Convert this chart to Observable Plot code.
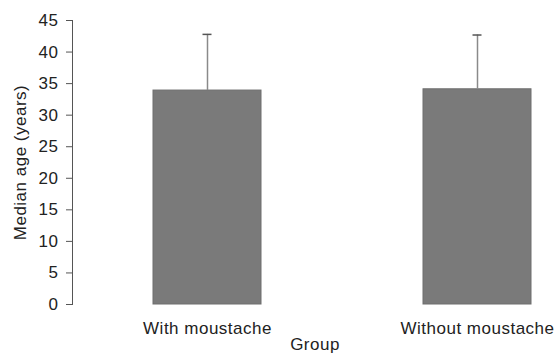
<!DOCTYPE html>
<html>
<head>
<meta charset="utf-8">
<script src="https://cdn.jsdelivr.net/npm/d3@7"></script>
<script src="https://cdn.jsdelivr.net/npm/@observablehq/plot@0.6"></script>
<style>
  html, body { margin: 0; padding: 0; background: #fff; }
  svg text { letter-spacing: 0.5px; }
</style>
</head>
<body>
<div id="chart"></div>
<script>
const groups = ["With moustache", "Without moustache"];
const medians = [33.9, 34.1];
const upper = [42.8, 42.7];
const yTicks = [0, 5, 10, 15, 20, 25, 30, 35, 40, 45];

const data = groups.map((g, i) => ({group: g, median: medians[i], upper: upper[i]}));

const chart = Plot.plot({
  width: 557,
  height: 353,
  marginLeft: 72,
  marginRight: 0,
  marginTop: 20,
  marginBottom: 49,
  style: {fontFamily: "'Liberation Sans', Arial, sans-serif", fontSize: "17px", color: "#222", background: "#fff"},
  x: {domain: groups, range: [153, 531], paddingInner: 0.6, paddingOuter: 0},
  y: {domain: [0, 45], ticks: yTicks},
  marks: [
    Plot.barY(data, {x: "group", y: "median", fill: "#7a7a7a", stroke: "#6e6e6e", strokeWidth: 1}),
    Plot.ruleX(data, {x: "group", y1: "median", y2: "upper", stroke: "#8a8a8a", strokeWidth: 1.5}),
    Plot.tickY(data, {x: "group", y: "upper", stroke: "#555", strokeWidth: 1.5, insetLeft: 49.5, insetRight: 49.5}),
    Plot.frame({anchor: "left", stroke: "#555"}),
    Plot.axisY({ticks: yTicks, tickSize: 6, tickPadding: 8, stroke: "#555", fontSize: 17,
      label: "Median age (years)", labelAnchor: "center", labelArrow: "none", labelOffset: 59}),
    Plot.axisX({tickSize: 0, tickPadding: 17, fontSize: 17,
      label: "Group", labelAnchor: "center", labelArrow: "none", labelOffset: 45})
  ]
});
document.getElementById("chart").appendChild(chart);
</script>
</body>
</html>
